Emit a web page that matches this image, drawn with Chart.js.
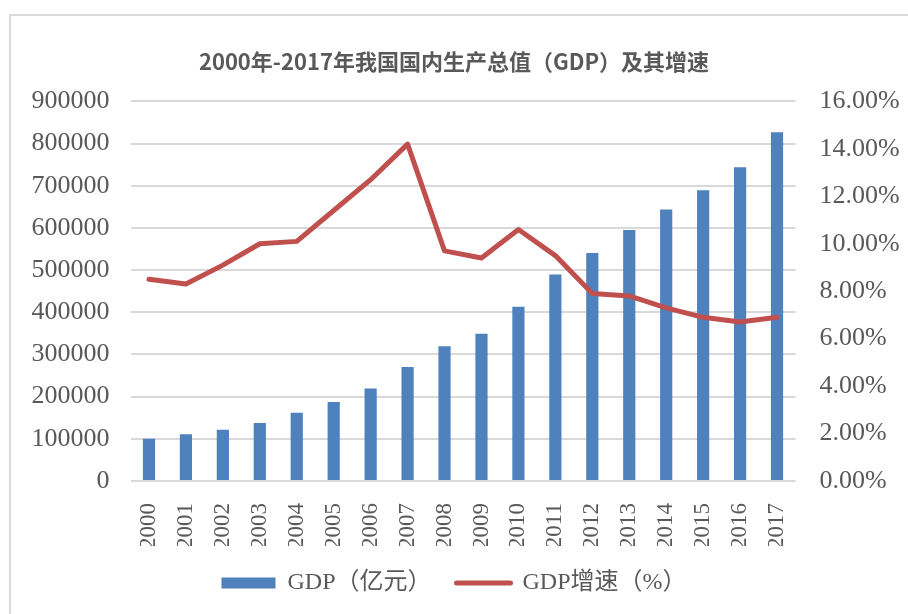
<!DOCTYPE html>
<html>
<head>
<meta charset="utf-8">
<script src="https://cdn.jsdelivr.net/npm/chart.js@4/dist/chart.umd.min.js"></script>
<style>
  body { margin: 0; background: #fff; }
  #wrap { position: relative; width: 908px; height: 614px; }
  #frame { position: absolute; left: 9px; top: 14px; right: -5px; bottom: -5px;
           border-top: 2px solid #d9d9d9; border-left: 2px solid #d9d9d9; }
  canvas { position: absolute; left: 0; top: 0; }
</style>
</head>
<body>
<div id="wrap">
  <div id="frame"></div>
  <canvas id="myChart" width="908" height="614"></canvas>
</div>
<script>
'use strict'

// data
var years = ['2000', '2001', '2002', '2003', '2004', '2005', '2006', '2007', '2008',
  '2009', '2010', '2011', '2012', '2013', '2014', '2015', '2016', '2017'];
var gdp = [100280, 110863, 121717, 137422, 161840, 187319, 219439, 270232, 319516,
  349081, 413030, 489301, 540367, 595244, 643974, 689052, 743586, 827122];
var growth = [8.5, 8.3, 9.1, 10.0, 10.1, 11.4, 12.7, 14.2, 9.7,
  9.4, 10.6, 9.5, 7.9, 7.8, 7.3, 6.9, 6.7, 6.9];

var serif = "'Liberation Serif', 'Times New Roman', 'Noto Sans CJK SC', serif";
var gray = '#595959';

var ctx = document.getElementById('myChart').getContext('2d');
var chart = new Chart(ctx, {
  type: 'bar',
  data: {
    labels: years,
    datasets: [{
      label: 'GDP（亿元）',
      data: gdp,
      backgroundColor: '#4f81bd',
      borderWidth: 0,
      yAxisID: 'y',
      order: 1,
      categoryPercentage: 1,
      barPercentage: 0.33
    },
    {
      type: 'line',
      label: 'GDP增速（%）',
      data: growth,
      borderColor: '#c0504d',
      backgroundColor: '#c0504d',
      borderWidth: 5,
      borderCapStyle: 'round',
      borderJoinStyle: 'round',
      pointRadius: 0,
      tension: 0,
      yAxisID: 'y1',
      order: 0
    }]
  },
  options: {
    responsive: false,
    animation: false,
    layout: { padding: { left: 0, right: 0, top: 0, bottom: 9 } },
    plugins: {
      tooltip: { enabled: false },
      title: {
        display: true,
        text: '2000年-2017年我国国内生产总值（GDP）及其增速',
        color: gray,
        font: { family: "'Noto Sans CJK SC', sans-serif", size: 22, weight: 'bold' },
        padding: { top: 48, bottom: 27 }
      },
      legend: {
        position: 'bottom',
        labels: {
          color: gray,
          font: { family: serif, size: 24 },
          usePointStyle: true,
          pointStyleWidth: 54,
          boxHeight: 11,
          padding: 25,
          sort: function(a, b) { return a.datasetIndex - b.datasetIndex },
          generateLabels: function(chart) {
            var items = Chart.defaults.plugins.legend.labels.generateLabels(chart);
            items.forEach(function(item) {
              if (item.datasetIndex === 0) {
                item.pointStyle = 'rect';
                item.lineWidth = 0;
              } else {
                item.pointStyle = 'line';
                item.lineWidth = 5;
                item.strokeStyle = '#c0504d';
                item.lineCap = 'round';
              }
            });
            return items;
          }
        }
      }
    },
    scales: {
      x: {
        grid: { display: false },
        border: { display: false },
        ticks: {
          color: gray,
          font: { family: serif, size: 23 },
          minRotation: 90,
          maxRotation: 90,
          autoSkip: false,
          padding: 14
        },
        afterFit: function(scale) { scale.height = 65 }
      },
      y: {
        position: 'left',
        min: 0,
        max: 900000,
        grid: { color: '#d9d9d9', lineWidth: 2, drawTicks: false },
        border: { display: false },
        ticks: {
          stepSize: 100000,
          color: gray,
          font: { family: serif, size: 26 },
          padding: 21,
          callback: function(v) { return String(v) }
        },
        afterFit: function(scale) { scale.width = 130.5 }
      },
      y1: {
        position: 'right',
        min: 0,
        max: 16,
        grid: { display: false, drawTicks: false },
        border: { display: false },
        ticks: {
          stepSize: 2,
          color: gray,
          font: { family: serif, size: 26 },
          padding: 24,
          callback: function(v) { return v.toFixed(2) + '%' }
        },
        afterFit: function(scale) { scale.width = 112.5 }
      }
    }
  }
});
</script>
</body>
</html>
